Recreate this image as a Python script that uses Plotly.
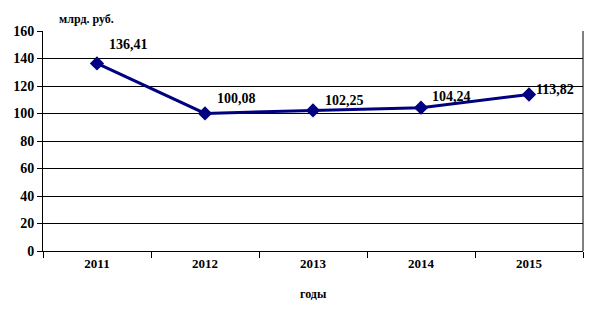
import plotly.graph_objects as go

years = ["2011", "2012", "2013", "2014", "2015"]
values = [136.41, 100.08, 102.25, 104.24, 113.82]
labels = ["136,41", "100,08", "102,25", "104,24", "113,82"]
y_ticks = [0, 20, 40, 60, 80, 100, 120, 140, 160]

FONT = "Liberation Serif"
fig = go.Figure()
fig.add_trace(go.Scatter(
    x=years, y=values, mode="lines+markers",
    line=dict(color="#000080", width=3),
    marker=dict(symbol="diamond", size=11, color="#000080"),
    showlegend=False, cliponaxis=False,
))
offsets = [(31, 19), (31, 15), (31, 10), (30, 11), (26, 5)]
for i, (v, lab, (dx, dy)) in enumerate(zip(values, labels, offsets)):
    fig.add_annotation(x=i, y=v, text="<b>" + lab + "</b>", showarrow=False,
                       xshift=dx, yshift=dy,
                       font=dict(family=FONT, size=14, color="black"))
fig.add_annotation(xref="paper", yref="paper", x=0.08, y=1.0, yshift=12,
                   xanchor="center", yanchor="middle",
                   text="<b>млрд. руб.</b>", showarrow=False,
                   font=dict(family=FONT, size=12, color="black"))
fig.add_annotation(xref="paper", yref="paper", x=0.5, y=0, yshift=-43,
                   xanchor="center", yanchor="middle",
                   text="<b>годы</b>", showarrow=False,
                   font=dict(family=FONT, size=12, color="black"))
fig.update_layout(
    width=589, height=314,
    margin=dict(l=43, r=6, t=31, b=63),
    paper_bgcolor="white", plot_bgcolor="white",
    font=dict(family=FONT, color="black"),
    xaxis=dict(type="category", range=[-0.5, len(years) - 0.5],
               tickson="boundaries", ticks="outside",
               ticklen=6, tickcolor="black", showline=True, linecolor="black",
               linewidth=1, mirror=False, showgrid=False, tickangle=0,
               tickfont=dict(family=FONT, size=13, color="black", weight="bold")),
    yaxis=dict(range=[0, 160], tickvals=y_ticks, ticks="outside", ticklen=5,
               tickcolor="black", showline=True, linecolor="black",
               gridcolor="black", gridwidth=1, zeroline=False,
               tickfont=dict(family=FONT, size=14, color="black", weight="bold")),
)
fig.add_shape(type="line", xref="paper", yref="paper", x0=1, x1=1, y0=0, y1=1,
              line=dict(color="black", width=1))
fig.write_html("out.html")
